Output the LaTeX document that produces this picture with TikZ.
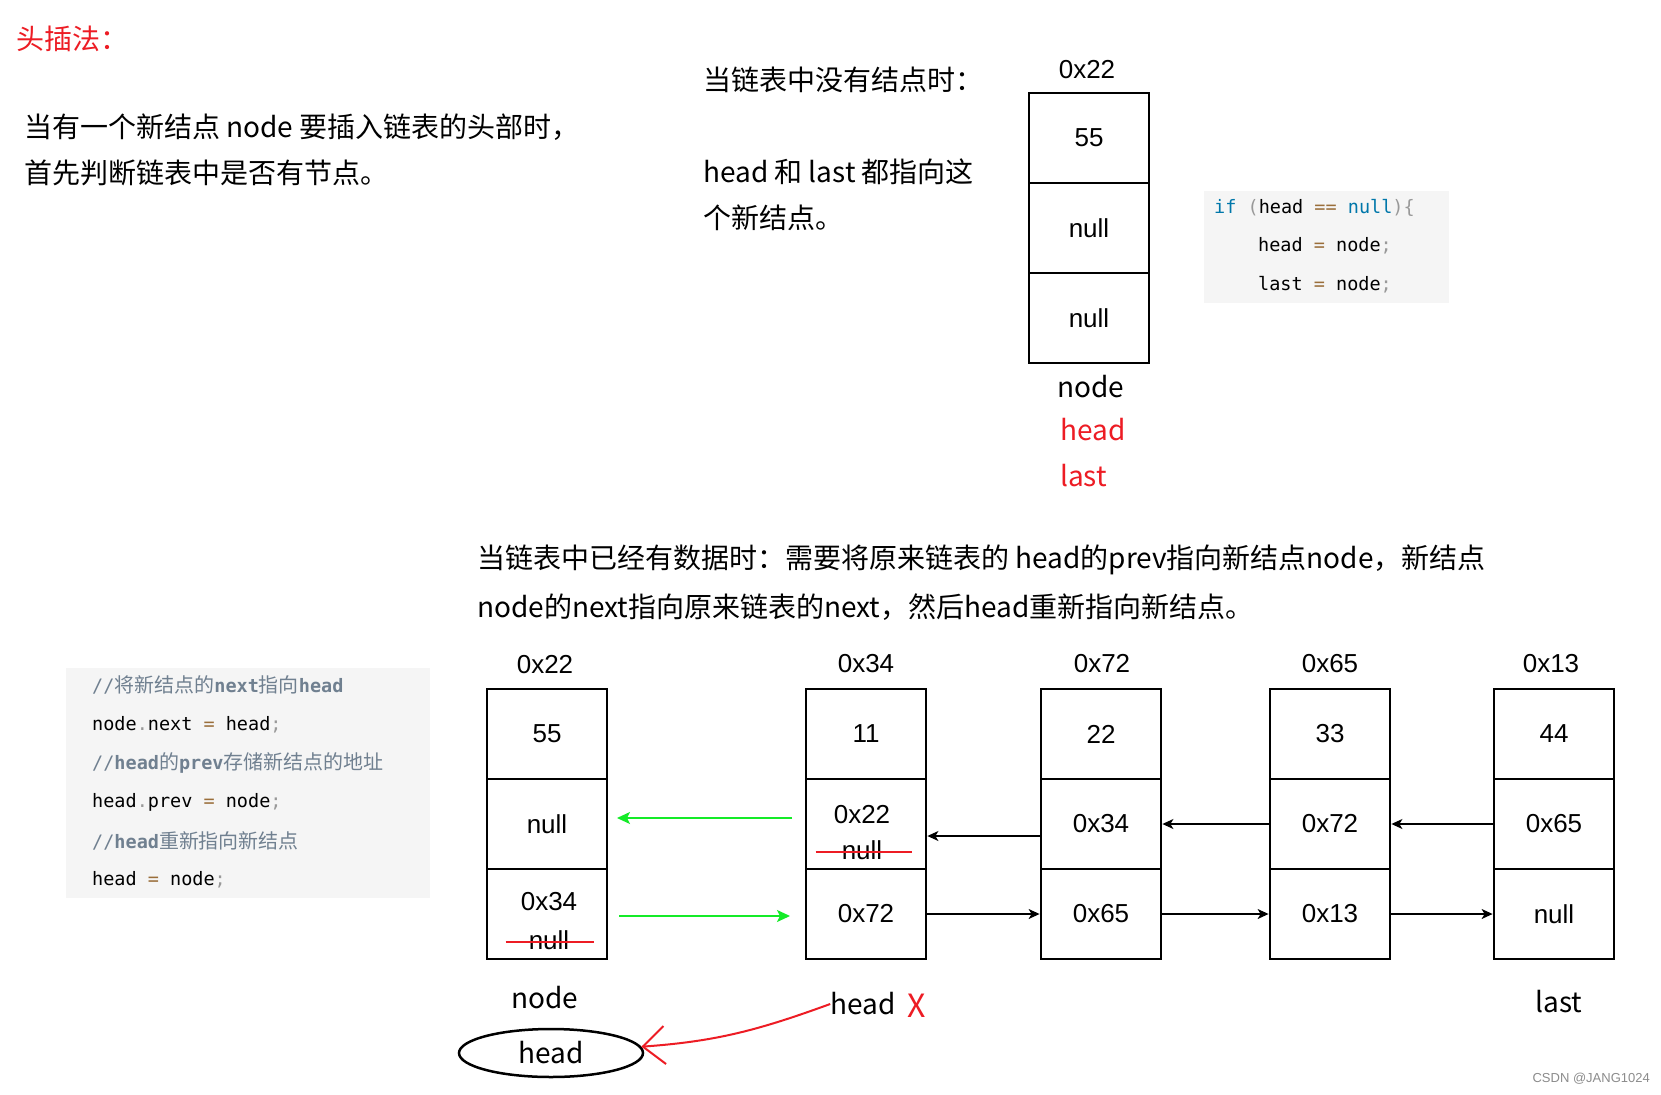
\documentclass[tikz,border=0pt]{standalone}
\usepackage{fontspec}
\setmainfont{Noto Sans CJK SC}
\newfontfamily\numfont{Liberation Sans}
\newfontfamily\codefont{DejaVu Sans Mono}
\newfontfamily\cjkc{Noto Sans CJK SC}[Scale=1.08]
\usetikzlibrary{arrows.meta,shapes.geometric}
\definecolor{myred}{RGB}{237,28,36}
\definecolor{mygreen}{RGB}{20,235,40}
\definecolor{codebg}{RGB}{245,245,245}
\definecolor{cmt}{RGB}{112,128,144}
\definecolor{kw}{RGB}{0,119,170}
\definecolor{opc}{RGB}{154,110,58}
\definecolor{pun}{RGB}{153,153,153}
\newcommand\cdOp[1]{\textcolor{opc}{#1}}
\newcommand\cdPun[1]{\textcolor{pun}{#1}}
\newcommand\cdKw[1]{\textcolor{kw}{#1}}
\begin{document}
\begin{tikzpicture}[x=1pt,y=-1pt,
  cell/.style={draw, line width=2.8pt, minimum width=120pt, minimum height=90pt, inner sep=0pt, font=\numfont\fontsize{26}{30}\selectfont},
  numtxt/.style={inner sep=0pt, font=\numfont\fontsize{26}{30}\selectfont},
  para/.style={anchor=west, inner sep=0pt, font=\fontsize{28}{32}\selectfont},
  lbl/.style={inner sep=0pt, font=\fontsize{28}{32}\selectfont},
  codeln/.style={anchor=west, inner sep=0pt, font=\codefont\fontsize{18.5}{22}\selectfont},
  strike/.style={draw=myred, line width=2.5pt},
  link/.style={line width=1.3pt, -{Stealth[length=11pt,width=10pt,inset=3pt]}},
  glink/.style={draw=mygreen, line width=1.5pt, -{Stealth[length=13pt,width=12pt,inset=3pt]}}
]
\fill[white] (0,0) rectangle (1661,1094);
\useasboundingbox (0,0) rectangle (1661,1094);

% ---------- top left text ----------
\node[para, text=myred] (title) at (16,39) {头插法：};
\node[para] (p1) at (24,127) {当有一个新结点 node 要插入链表的头部时，};
\node[para] (p2) at (24,173) {首先判断链表中是否有节点。};

% ---------- top middle text ----------
\node[para] (q1) at (703,80) {当链表中没有结点时：};
\node[para] (q2) at (703,172) {head 和 last 都指向这};
\node[para] (q3) at (703,218) {个新结点。};

% ---------- top box ----------
\node[numtxt] (t0) at (1087,70) {0x22};
\node[cell] (t1) at (1089,138) {55};
\node[cell] (t2) at (1089,228) {null};
\node[cell] (t3) at (1089,318) {null};
\node[lbl] (tnode) at (1091,387) {node};
\node[lbl, anchor=west, text=myred] (thead) at (1060,430) {head};
\node[lbl, anchor=west, text=myred] (tlast) at (1060,476) {last};

% ---------- top code ----------
\fill[codebg] (1204,191) rectangle (1449,303);
\node[codeln] (c1) at (1214,208) {\cdKw{if} \cdPun{(}head \cdOp{==} \cdKw{null}\cdPun{)\{}};
\node[codeln] (c2) at (1258,246) {head \cdOp{=} node\cdPun{;}};
\node[codeln] (c3) at (1258,285) {last \cdOp{=} node\cdPun{;}};

% ---------- bottom heading ----------
\node[para] (h1) at (477,560) {当链表中已经有数据时：需要将原来链表的 head的prev指向新结点node，新结点};
\node[para] (h2) at (477,607) {node的next指向原来链表的next，然后head重新指向新结点。};

% ---------- left code ----------
\fill[codebg] (66,668) rectangle (430,898);
\node[codeln, text=cmt] (d1) at (92,685) {//{\cjkc 将新结点的}\textbf{next}{\cjkc 指向}\textbf{head}};
\node[codeln] (d2) at (92,725) {node\cdPun{.}next \cdOp{=} head\cdPun{;}};
\node[codeln, text=cmt] (d3) at (92,763) {//\textbf{head}{\cjkc 的}\textbf{prev}{\cjkc 存储新结点的地址}};
\node[codeln] (d4) at (92,802) {head\cdPun{.}prev \cdOp{=} node\cdPun{;}};
\node[codeln, text=cmt] (d5) at (92,841) {//\textbf{head}{\cjkc 重新指向新结点}};
\node[codeln] (d6) at (92,880) {head \cdOp{=} node\cdPun{;}};

% ---------- bottom boxes ----------
% A : new node 0x22
\node[numtxt] (a0) at (545,665) {0x22};
\node[cell] (a1) at (547,734) {55};
\node[cell] (a2) at (547,824) {null};
\node[cell] (a3) at (547,914) {};
\node[numtxt] (a3t) at (549,902) {0x34};
\node[numtxt] (a3n) at (549,940) {null};
\draw[strike] ([xshift=-23pt]a3n.west |- 0,942) -- ([xshift=25pt]a3n.east |- 0,942);
% B : 0x34
\node[numtxt] (b0) at (866,664) {0x34};
\node[cell] (b1) at (866,734) {11};
\node[cell] (b2) at (866,824) {};
\node[numtxt] (b2t) at (862,815) {0x22};
\node[numtxt] (b2n) at (862,850) {null};
\draw[strike] ([xshift=-26pt]b2n.west |- 0,852) -- ([xshift=30pt]b2n.east |- 0,852);
\node[cell] (b3) at (866,914) {0x72};
% C : 0x72
\node[numtxt] (c0) at (1102,664) {0x72};
\node[cell] (cc1) at (1101,734) {22};
\node[cell] (cc2) at (1101,824) {0x34};
\node[cell] (cc3) at (1101,914) {0x65};
% D : 0x65
\node[numtxt] (e0) at (1330,664) {0x65};
\node[cell] (e1) at (1330,734) {33};
\node[cell] (e2) at (1330,824) {0x72};
\node[cell] (e3) at (1330,914) {0x13};
% E : 0x13
\node[numtxt] (f0) at (1551,664) {0x13};
\node[cell] (f1) at (1554,734) {44};
\node[cell] (f2) at (1554,824) {0x65};
\node[cell] (f3) at (1554,914) {null};

% ---------- links ----------
\coordinate (g1s) at (792,818);
\coordinate (g1e) at (617,818);
\coordinate (g2s) at (619,916);
\coordinate (g2e) at (790,916);
\draw[glink] (g1s) -- (g1e);
\draw[glink] (g2s) -- (g2e);
\draw[link] (cc2.west |- 0,836) -- (b2.east |- 0,836);
\draw[link] (e2.west) -- (cc2.east);
\draw[link] (f2.west) -- (e2.east);
\draw[link] (b3.east) -- (cc3.west);
\draw[link] (cc3.east) -- (e3.west);
\draw[link] (e3.east) -- (f3.west);

% ---------- bottom labels ----------
\node[lbl] (anode) at (545,998) {node};
\node[lbl] (oldhead) at (863,1004) {head};
\node[inner sep=0pt, text=myred, font=\fontsize{32}{34}\selectfont] (xmark) at (917,1006) {X};
\node[lbl] (flast) at (1559,1002) {last};
\node[draw, ellipse, line width=2.5pt, minimum width=184pt, minimum height=48pt, inner sep=0pt, font=\fontsize{28}{32}\selectfont] (newhead) at (551,1053) {head};
\draw[draw=myred, line width=2pt, -{Straight Barb[length=22pt,width=38pt]}] (oldhead.west) to[out=200,in=4] (newhead.4);

% ---------- watermark ----------
\node[anchor=east, inner sep=0pt, text=black!45, font=\numfont\fontsize{13}{15}\selectfont] (wm) at (1650,1079) {CSDN @JANG1024};
\end{tikzpicture}
\end{document}
